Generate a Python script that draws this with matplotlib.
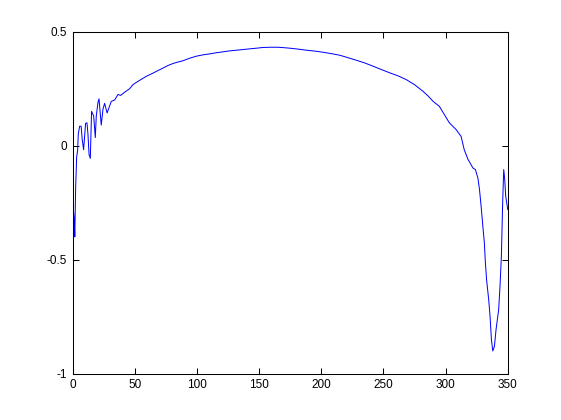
import matplotlib
matplotlib.use("Agg")
import matplotlib.pyplot as plt

x_vals = [0.5, 1, 1.5, 2.2, 3, 3.8, 4.3, 5.4, 6.6, 7.5, 8.6, 10.2, 11.3, 12.1, 13, 14,
          15, 16.7, 18, 18.8, 20.2, 21, 22, 22.8, 24.2, 25.5, 27.5, 30.9, 33.6, 36.3,
          38.4, 41.6, 45.6, 48.5, 52.5, 59.2, 64.6, 68.5, 72.6, 76.5, 80.7, 84.5, 88.7,
          94, 99.5, 105, 110.2, 115.5, 120.9, 126, 131.6, 137, 142.3, 148, 153, 159, 165,
          170, 174.4, 181, 188, 195, 201.4, 208, 214.8, 221, 228.2, 235, 241.6, 248, 255,
          262, 268.4, 275, 281.8, 286, 289.9, 295, 299, 303, 308.5, 312.5, 315, 318, 322,
          324, 326, 327.3, 328.6, 330, 331.2, 332, 333, 334.7, 335.8, 336.9, 338, 339.3,
          340.6, 342.7, 343.8, 344.9, 346, 346.8, 347.6, 348.4, 349.2, 350]
y_vals = [-0.29, -0.32, -0.40, -0.18, -0.05, -0.02, 0.05, 0.085, 0.085, 0.026, -0.018,
          0.098, 0.10, 0.05, -0.04, -0.056, 0.15, 0.13, 0.035, 0.13, 0.19, 0.205, 0.14,
          0.09, 0.16, 0.185, 0.143, 0.194, 0.2, 0.224, 0.22, 0.234, 0.249, 0.268, 0.282,
          0.304, 0.318, 0.329, 0.34, 0.351, 0.36, 0.366, 0.372, 0.383, 0.392, 0.398,
          0.402, 0.407, 0.411, 0.415, 0.418, 0.421, 0.424, 0.427, 0.43, 0.431, 0.431,
          0.429, 0.427, 0.423, 0.418, 0.414, 0.409, 0.403, 0.396, 0.386, 0.374, 0.362,
          0.348, 0.334, 0.319, 0.305, 0.289, 0.267, 0.238, 0.217, 0.194, 0.172, 0.136,
          0.10, 0.07, 0.04, -0.018, -0.06, -0.098, -0.105, -0.142, -0.193, -0.266,
          -0.354, -0.426, -0.51, -0.588, -0.675, -0.749, -0.851, -0.9, -0.88, -0.807,
          -0.72, -0.617, -0.486, -0.237, -0.105, -0.149, -0.222, -0.25, -0.28]

x_ticks = [0, 50, 100, 150, 200, 250, 300, 350]
y_ticks = [-1, -0.5, 0, 0.5]
y_tick_labels = ["-1", "-0.5", "0", "0.5"]

plt.rcParams['font.family'] = ['Liberation Sans', 'DejaVu Sans']

fig = plt.figure(figsize=(5.61, 4.2), dpi=100)
ax = fig.add_axes([0.13, 0.11, 0.775, 0.815])
ax.plot(x_vals, y_vals, color=(0, 0, 1), linewidth=0.72)
ax.set_xlim(0, 350)
ax.set_ylim(-1, 0.5)
ax.set_xticks(x_ticks)
ax.set_xticklabels([str(t) for t in x_ticks])
ax.set_yticks(y_ticks)
ax.set_yticklabels(y_tick_labels)
ax.tick_params(direction='in', top=True, right=True, length=4, width=0.75,
               labelsize=8.5, pad=4)
for s in ax.spines.values():
    s.set_linewidth(0.75)
fig.savefig("out.png", dpi=100, facecolor='white')
